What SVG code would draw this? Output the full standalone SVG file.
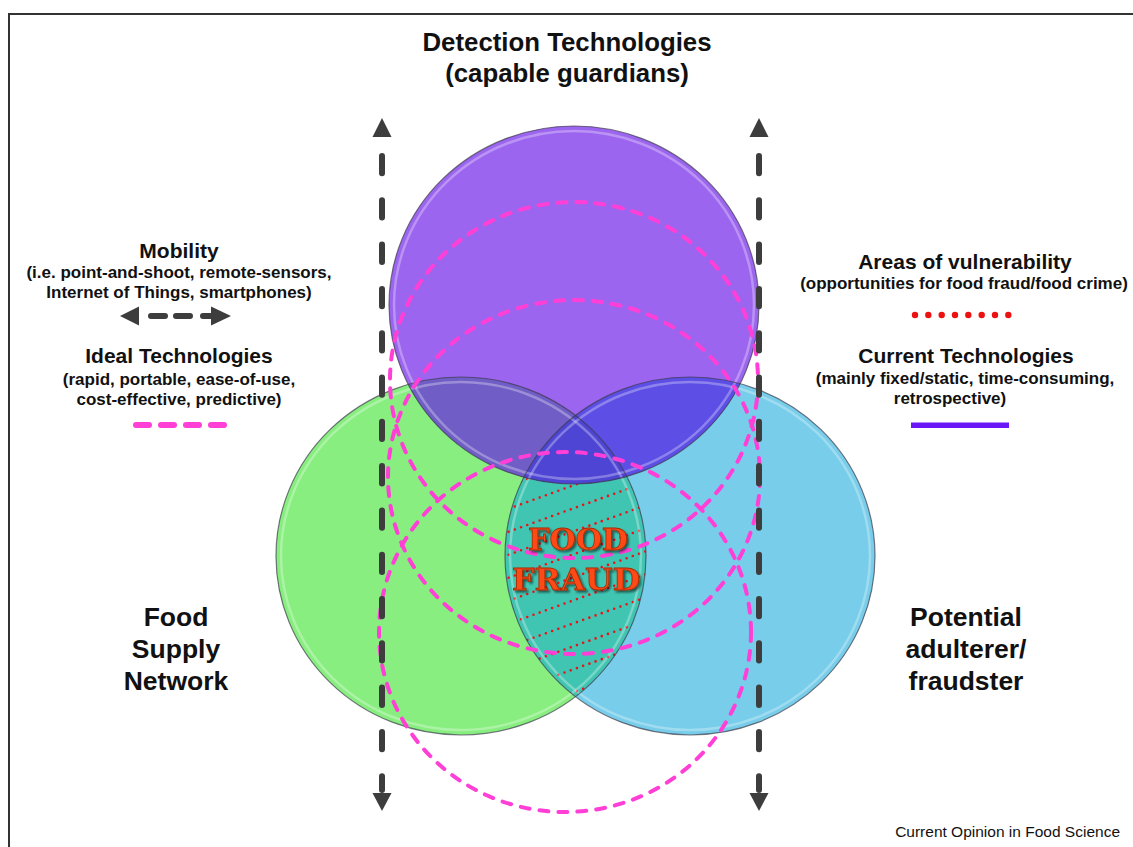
<svg xmlns="http://www.w3.org/2000/svg" width="1133" height="847" viewBox="0 0 1133 847">
<style>
.t{font-family:"Liberation Sans",Arial,Helvetica,sans-serif;font-weight:bold;fill:#111;text-anchor:middle}
.title{font-size:25.8px}
.hd{font-size:21px}
.sub{font-size:17px}
.big{font-size:26.5px}
.pink{fill:none;stroke:#ff3fd6;stroke-width:4;stroke-dasharray:9 10;stroke-linecap:round}
.dot{fill:none;stroke:#e8141c;stroke-width:2.6;stroke-dasharray:0 6.6;stroke-linecap:round}
.vdash{fill:none;stroke:#3d3d3d;stroke-width:6;stroke-linecap:round;stroke-dasharray:17.3 27}
.arr{fill:#3d3d3d}
.edge{fill:none;stroke:#3a3a4a;stroke-opacity:.7;stroke-width:1.2}
.hl{fill:none;stroke:#fff;stroke-opacity:.3;stroke-width:2.5}
.ff{font-family:"DejaVu Serif","Liberation Serif",serif;font-weight:bold;font-size:30px;fill:#ff4a14;stroke:#a82a00;stroke-width:.8;text-anchor:middle}
</style>
<defs>
<clipPath id="cpG"><ellipse cx="461" cy="556" rx="185" ry="179"/></clipPath>
<clipPath id="cpC"><ellipse cx="690" cy="556" rx="185" ry="179"/></clipPath>
<clipPath id="cpP"><ellipse cx="574" cy="305" rx="185" ry="179"/></clipPath>
<filter id="sh" x="-20%" y="-20%" width="140%" height="160%">
<feGaussianBlur in="SourceAlpha" stdDeviation="1.2"/>
<feOffset dx="1.5" dy="2" result="o"/>
<feFlood flood-color="#000" flood-opacity=".55"/>
<feComposite in2="o" operator="in"/>
<feMerge><feMergeNode/><feMergeNode in="SourceGraphic"/></feMerge>
</filter>
</defs>
<rect width="1133" height="847" fill="#fff"/>
<path d="M9,847 V14 H1133" fill="none" stroke="#333" stroke-width="2"/>

<g id="node-food-supply-network">
<ellipse cx="461" cy="556" rx="185" ry="179" fill="#87ee7f"/>
</g>
<g id="node-potential-adulterer">
<ellipse cx="690" cy="556" rx="185" ry="179" fill="#77cdea"/>
</g>
<g id="node-food-fraud">
<g clip-path="url(#cpG)"><ellipse cx="690" cy="556" rx="185" ry="179" fill="#3fc5b2"/></g>
<g id="vulnerability-hatching" clip-path="url(#cpG)"><g clip-path="url(#cpC)">
<path class="dot" d="M490,492.4 L660,431.2 M490,515.4 L660,454.2 M490,538.4 L660,477.2 M490,561.4 L660,500.2 M490,584.4 L660,523.2 M490,607.4 L660,546.2 M490,630.4 L660,569.2 M490,653.4 L660,592.2 M490,676.4 L660,615.2 M490,699.4 L660,638.2 M490,722.4 L660,661.2"/>
</g></g>
</g>
<g id="node-detection-technologies">
<ellipse cx="574" cy="305" rx="185" ry="179" fill="#9c65ef"/>
<g clip-path="url(#cpP)">
<ellipse cx="461" cy="556" rx="185" ry="179" fill="#705dc6"/>
<ellipse cx="690" cy="556" rx="185" ry="179" fill="#5d4ee6"/>
<g clip-path="url(#cpG)"><ellipse cx="690" cy="556" rx="185" ry="179" fill="#4f45d4"/></g>
</g>
</g>
<g id="circle-edges">
<ellipse class="hl" cx="461" cy="556" rx="180" ry="174"/>
<ellipse class="hl" cx="690" cy="556" rx="180" ry="174"/>
<ellipse class="hl" cx="574" cy="305" rx="180" ry="174"/>
<ellipse class="edge" cx="461" cy="556" rx="185" ry="179"/>
<ellipse class="edge" cx="690" cy="556" rx="185" ry="179"/>
<ellipse class="edge" cx="574" cy="305" rx="185" ry="179"/>
</g>

<g id="ideal-technology-ranges">
<ellipse class="pink" cx="574" cy="380" rx="184" ry="178"/>
<ellipse class="pink" cx="574" cy="477" rx="186" ry="177"/>
<ellipse class="pink" cx="565" cy="632" rx="186" ry="180"/>
</g>

<g id="connectors">
<line class="vdash" x1="382" y1="156" x2="382" y2="790"/>
<polygon class="arr" points="382,118 391.5,137 372.5,137"/>
<polygon class="arr" points="382,811 391.5,793 372.5,793"/>
<line class="vdash" x1="759" y1="156" x2="759" y2="790"/>
<polygon class="arr" points="759,118 768.5,137 749.5,137"/>
<polygon class="arr" points="759,811 768.5,793 749.5,793"/>
</g>

<g id="food-fraud-label" filter="url(#sh)">
<text class="ff" x="578" y="550" textLength="100" lengthAdjust="spacingAndGlyphs">FOOD</text>
<text class="ff" x="576" y="590" textLength="128" lengthAdjust="spacingAndGlyphs">FRAUD</text>
</g>

<g id="title">
<text class="t title" x="567" y="51">Detection Technologies</text>
<text class="t title" x="567" y="82">(capable guardians)</text>
</g>
<g id="label-food-supply">
<text class="t big" x="176" y="626">Food</text>
<text class="t big" x="176" y="658">Supply</text>
<text class="t big" x="176" y="690">Network</text>
</g>
<g id="label-adulterer">
<text class="t big" x="966" y="626">Potential</text>
<text class="t big" x="966" y="658">adulterer/</text>
<text class="t big" x="966" y="690">fraudster</text>
</g>

<g id="legend-mobility">
<text class="t hd" x="179" y="258">Mobility</text>
<text class="t sub" x="179" y="278">(i.e. point-and-shoot, remote-sensors,</text>
<text class="t sub" x="179" y="298">Internet of Things, smartphones)</text>
<polygon class="arr" points="120,316 139,306.5 139,325.5"/>
<path d="M151,316 H165 M176,316 H190 M203,316 H212" stroke="#3d3d3d" stroke-width="6" stroke-linecap="round"/>
<polygon class="arr" points="231,316 211,306.5 211,325.5"/>
</g>
<g id="legend-ideal">
<text class="t hd" x="179" y="363">Ideal Technologies</text>
<text class="t sub" x="179" y="385">(rapid, portable, ease-of-use,</text>
<text class="t sub" x="179" y="405">cost-effective, predictive)</text>
<line x1="136" y1="425" x2="224" y2="425" stroke="#ff3fd6" stroke-width="6" stroke-linecap="round" stroke-dasharray="13 12"/>
</g>
<g id="legend-vulnerability">
<text class="t hd" x="965" y="269">Areas of vulnerability</text>
<text class="t sub" x="964" y="289">(opportunities for food fraud/food crime)</text>
<g fill="#ee1111">
<circle cx="915" cy="315" r="3.2"/><circle cx="928.3" cy="315" r="3.2"/><circle cx="941.7" cy="315" r="3.2"/><circle cx="955" cy="315" r="3.2"/><circle cx="968.3" cy="315" r="3.2"/><circle cx="981.7" cy="315" r="3.2"/><circle cx="995" cy="315" r="3.2"/><circle cx="1008.3" cy="315" r="3.2"/>
</g>
</g>
<g id="legend-current">
<text class="t hd" x="966" y="363">Current Technologies</text>
<text class="t sub" x="965" y="384">(mainly fixed/static, time-consuming,</text>
<text class="t sub" x="950" y="404">retrospective)</text>
<rect x="911" y="422.5" width="98" height="5.5" fill="#6a16f6"/>
</g>
<text x="1120" y="837" font-family="Liberation Sans,Arial,sans-serif" font-size="15.5" fill="#111" text-anchor="end">Current Opinion in Food Science</text>
</svg>
